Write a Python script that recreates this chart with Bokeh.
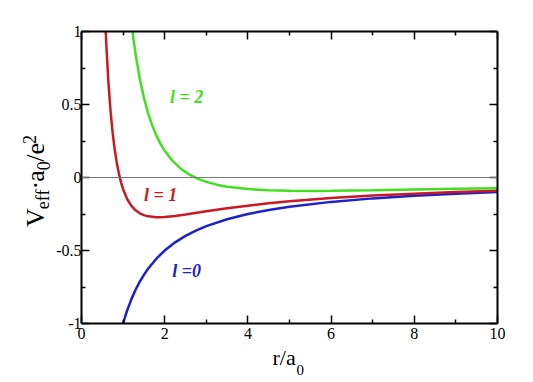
from math import pi
from bokeh.plotting import figure
from bokeh.layouts import row, column
from bokeh.models import Range1d, LinearAxis, FixedTicker, Span, Label
from bokeh.core.properties import value
from bokeh.embed import file_html
from bokeh.resources import INLINE

# ---- data ----
r_l0 = [1.0, 1.05, 1.1, 1.2, 1.3, 1.4, 1.5, 1.6, 1.8, 2.0, 2.25, 2.5, 2.75, 3.0, 3.5,
        4.0, 4.5, 5.0, 6.0, 7.0, 8.0, 9.0, 10.0]
v_l0 = [-1.0, -0.952, -0.909, -0.833, -0.769, -0.714, -0.667, -0.625, -0.556, -0.5,
        -0.444, -0.4, -0.364, -0.333, -0.286, -0.25, -0.222, -0.2, -0.167, -0.143,
        -0.125, -0.111, -0.1]

r_l1 = [0.55, 0.6, 0.65, 0.7, 0.75, 0.8, 0.85, 0.9, 0.95, 1.0, 1.1, 1.2, 1.3, 1.4, 1.5,
        1.6, 1.8, 2.0, 2.25, 2.5, 3.0, 3.5, 4.0, 4.5, 5.0, 6.0, 7.0, 8.0, 9.0, 10.0]
v_l1 = [1.223, 0.889, 0.639, 0.449, 0.302, 0.188, 0.097, 0.025, -0.033, -0.080, -0.149,
        -0.194, -0.225, -0.245, -0.258, -0.266, -0.272, -0.270, -0.263, -0.253, -0.231,
        -0.211, -0.193, -0.177, -0.163, -0.141, -0.124, -0.111, -0.100, -0.091]

r_l2 = [1.2, 1.25, 1.3, 1.4, 1.5, 1.6, 1.7, 1.8, 1.9, 2.0, 2.2, 2.4, 2.6, 2.8, 3.0, 3.25,
        3.5, 4.0, 4.5, 5.0, 5.5, 6.0, 7.0, 8.0, 9.0, 10.0]
v_l2 = [1.063, 0.947, 0.846, 0.678, 0.547, 0.441, 0.357, 0.287, 0.230, 0.183, 0.110,
        0.057, 0.019, -0.009, -0.030, -0.049, -0.063, -0.079, -0.088, -0.091, -0.092,
        -0.091, -0.087, -0.082, -0.077, -0.073]

x_ticks = [0, 2, 4, 6, 8, 10]
x_minor = [1, 3, 5, 7, 9]
y_ticks = [-1, -0.5, 0, 0.5, 1]
y_minor = [-0.75, -0.25, 0.25, 0.75]
y_tick_labels = ["-1", "-0.5", "0", "0.5", "1"]

curve_labels = ["l =0", "l = 1", "l = 2"]
RED = "#c81a24"
GREEN = "#44dd22"
BLUE = "#1c22c8"
FONT = "Liberation Serif"

YL_W = 53          # width of the y-title strip
TOP_H = 345        # height of the main row
XL_H = 35          # height of the x-title strip
W = 525
TOTAL_H = TOP_H + XL_H

# ---------------- main plot ----------------
p = figure(width=W - YL_W, height=TOP_H, x_range=Range1d(0, 10), y_range=Range1d(-1, 1),
           output_backend="svg", toolbar_location=None, title=None,
           min_border_left=26, min_border_right=28, min_border_top=31, min_border_bottom=22)
p.xgrid.visible = False
p.ygrid.visible = False
p.outline_line_color = None
p.background_fill_color = "white"
p.border_fill_color = "white"

def style_axis(ax, ticks, minor, labels=True):
    ax.ticker = FixedTicker(ticks=ticks, minor_ticks=minor)
    ax.axis_line_width = 2
    ax.axis_line_color = "black"
    ax.major_tick_in = 8
    ax.major_tick_out = 0
    ax.minor_tick_in = 4
    ax.minor_tick_out = 0
    ax.major_tick_line_width = 1.5
    ax.minor_tick_line_width = 1.5
    ax.major_tick_line_color = "black"
    ax.minor_tick_line_color = "black"
    ax.major_label_text_font = FONT
    ax.major_label_text_font_size = "16px"
    ax.major_label_text_color = "black"
    if not labels:
        ax.major_label_text_font_size = "0px"
        ax.major_label_text_alpha = 0

xa = p.xaxis[0]
style_axis(xa, x_ticks, x_minor)
xa.major_label_standoff = 4
ya = p.yaxis[0]
style_axis(ya, y_ticks, y_minor)
ya.major_label_standoff = 0
ya.major_label_overrides = {float(t): s for t, s in zip(y_ticks, y_tick_labels)}
xa.major_label_overrides = {float(t): str(t) for t in x_ticks}

top = LinearAxis()
style_axis(top, x_ticks, x_minor, labels=False)
p.add_layout(top, "above")
right = LinearAxis()
style_axis(right, y_ticks, y_minor, labels=False)
p.add_layout(right, "right")

p.add_layout(Span(location=0, dimension="width", line_color="#777777", line_width=1))

p.line(r_l0, v_l0, line_color=BLUE, line_width=2.5)
p.line(r_l1, v_l1, line_color=RED, line_width=2.5)
p.line(r_l2, v_l2, line_color=GREEN, line_width=2.5)

def lab(x, y, text, size, color):
    p.add_layout(Label(x=x, y=y, text=text, text_font=FONT, text_font_size=size,
                       text_color=color, text_font_style="bold italic",
                       text_baseline="middle"))

lab(2.18, -0.637, curve_labels[0], "18px", BLUE)
lab(1.50, -0.123, curve_labels[1], "18px", RED)
lab(2.13, 0.548, curve_labels[2], "18px", GREEN)

# ---------------- title strips (pixel coordinates) ----------------
def strip(w, h):
    f = figure(width=w, height=h, x_range=Range1d(0, w), y_range=Range1d(0, h),
               output_backend="svg", toolbar_location=None, title=None,
               x_axis_type=None, y_axis_type=None, min_border=0)
    f.xgrid.visible = False
    f.ygrid.visible = False
    f.outline_line_color = None
    f.background_fill_color = "white"
    f.border_fill_color = "white"
    return f

def txt(f, x, y, s, size, angle=0.0):
    f.text(x=[x], y=[y], text=[s], angle=angle, text_font=value(FONT),
           text_font_size=size, text_color="black", text_baseline="middle",
           text_align="left")

# y title: V_eff . a_0 / e^2 (rotated, reads bottom to top)
yl = strip(YL_W, TOP_H)
A = pi / 2
xm, xs, xp = 35.2, 42.6, 28.9      # centre lines: main, subscript, superscript
txt(yl, xm, TOP_H - 231, "V", "26px", A)
txt(yl, xs, TOP_H - 210, "eff", "18px", A)
txt(yl, xm, TOP_H - 186.75, "\u00b7", "26px", A)
txt(yl, xm, TOP_H - 177.5, "a", "26px", A)
txt(yl, xs, TOP_H - 164, "0", "18px", A)
txt(yl, xm, TOP_H - 154, "/e", "26px", A)
txt(yl, xp, TOP_H - 133, "2", "18px", A)

# x title: r/a_0
xl = strip(W, XL_H)
txt(xl, 272, TOTAL_H - 356.5, "r/a", "22px")
txt(xl, 296, TOTAL_H - 369, "0", "15px")

layout = column(row(yl, p, spacing=0), xl, spacing=0)
open("out.html", "w").write(file_html(layout, INLINE))
